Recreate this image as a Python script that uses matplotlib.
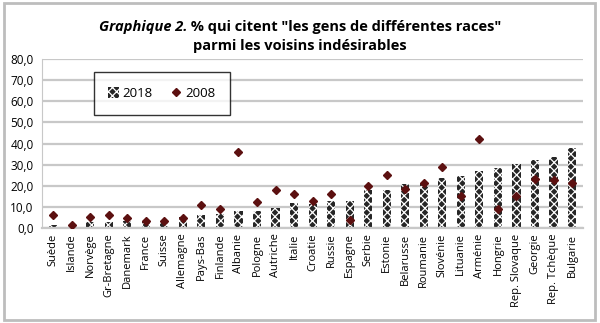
import numpy as np
import matplotlib
matplotlib.use("Agg")
import matplotlib.pyplot as plt
from matplotlib.patches import Rectangle

# ======================================
# DATA
# ======================================

pays = ["Suède", "Islande", "Norvège", "Gr-Bretagne", "Danemark", "France",
        "Suisse", "Allemagne", "Pays-Bas", "Finlande", "Albanie", "Pologne",
        "Autriche", "Italie", "Croatie", "Russie", "Espagne", "Serbie",
        "Estonie", "Belarusse", "Roumanie", "Slovénie", "Lituanie", "Arménie",
        "Hongrie", "Rep. Slovaque", "Georgie", "Rep. Tchèque", "Bulgarie"]

val_2018 = [1.6, 1.0, 2.8, 2.8, 3.5, 2.8, 2.8, 5.0, 6.0, 6.8, 8.0, 8.0,
            9.3, 11.8, 11.3, 12.9, 12.9, 18.1, 18.1, 20.8, 21.3, 23.5,
            24.7, 27.2, 28.5, 30.4, 32.3, 33.5, 38.1]

val_2008 = [6.0, 1.6, 5.2, 6.0, 4.7, 3.3, 3.3, 4.7, 11.0, 9.0, 36.2, 12.1,
            17.8, 16.1, 12.9, 16.2, 3.9, 20.0, 24.9, 18.7, 21.1, 28.8,
            15.0, 42.2, 9.0, 15.4, 23.1, 22.7, 21.1]

plt.rcParams["font.family"] = ["Open Sans", "DejaVu Sans"]
plt.rcParams["hatch.linewidth"] = 0.9

fig = plt.figure(figsize=(6.0, 3.23), dpi=100)
ax = fig.add_axes([0.07, 0.294, 0.902, 0.523])

x = np.arange(len(pays))

# ======================================
# BARS (2018) AND MARKERS (2008)
# ======================================

bars = ax.bar(x, val_2018, width=0.44, color="#262626", edgecolor="white",
              hatch="xxxx", linewidth=0, label="2018", zorder=2)
pts, = ax.plot(x, val_2008, linestyle="none", marker="D", markersize=4.5,
               color="#5c1010", label="2008", zorder=3)

ax.set_ylim(0, 80)
ax.set_xlim(-0.6, len(pays) - 0.4)
ax.set_yticks(np.arange(0, 81, 10))
ax.set_yticklabels([f"{v:.1f}".replace(".", ",") for v in range(0, 81, 10)],
                   fontsize=8.5)
ax.set_xticks(x)
ax.set_xticklabels(pays, rotation=90, fontsize=8)
ax.tick_params(axis="both", length=0, pad=4)
ax.tick_params(axis="y", pad=6)

ax.grid(axis="y", color="#c8c8c8", linewidth=1.6, zorder=0)
ax.set_axisbelow(True)
for s in ["top", "right"]:
    ax.spines[s].set_visible(False)
ax.spines["left"].set_color("#c8c8c8")
ax.spines["bottom"].set_color("#c8c8c8")
ax.spines["bottom"].set_linewidth(1.6)

leg = ax.legend([bars, pts], ["2018", "2008"], loc="upper left",
                bbox_to_anchor=(0.083, 0.96), ncol=2,
                fontsize=9.5, frameon=True, fancybox=False, edgecolor="black",
                handlelength=0.8, handleheight=0.9, handletextpad=0.3,
                columnspacing=1.4, borderpad=1.1)
leg.get_frame().set_linewidth(1.0)

# ======================================
# TITLE
# ======================================

fig.text(0.312, 0.915, "Graphique 2.", ha="right", va="center",
         fontsize=10.5, fontweight="bold", style="italic")
fig.text(0.312, 0.915, ' % qui citent "les gens de différentes races"',
         ha="left", va="center", fontsize=10.5, fontweight="bold")
fig.text(0.5, 0.858, "parmi les voisins indésirables", ha="center",
         va="center", fontsize=10.5, fontweight="bold")

# outer frame
fig.patches.append(Rectangle((0.006, 0.008), 0.986, 0.984,
                             transform=fig.transFigure, fill=False,
                             edgecolor="#bdbdbd", linewidth=2))

fig.savefig("out.png", dpi=100)
